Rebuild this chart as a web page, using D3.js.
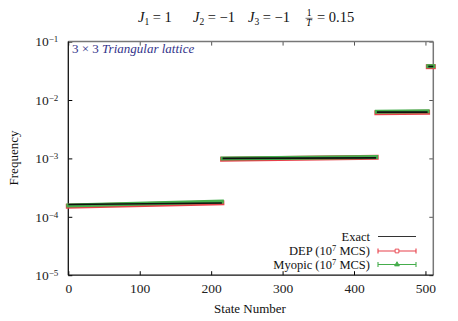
<!DOCTYPE html>
<html>
<head>
<meta charset="utf-8">
<script src="https://cdn.jsdelivr.net/npm/d3@7"></script>
<style>
  body { margin: 0; background: #fff; }
  svg, svg text { font-family: "Liberation Serif", "DejaVu Serif", serif; }
  .pre { white-space: pre; }
</style>
</head>
<body>
<div id="chart"></div>
<script>
// energy groups of the 512 states (first state, last state)
const groupStart = [0, 216, 432, 504];
const groupEnd   = [215, 431, 503, 511];

// frequency read at the first / last state of each group
const exactFirst  = [1.62e-4, 1.00e-3, 6.2e-3, 3.75e-2];
const exactLast   = [1.72e-4, 1.02e-3, 6.2e-3, 3.75e-2];
const depFirst    = [1.52e-4, 0.97e-3, 6.05e-3, 3.72e-2];
const depLast     = [1.74e-4, 1.05e-3, 6.15e-3, 3.72e-2];
const myopicFirst = [1.56e-4, 1.00e-3, 6.3e-3, 3.8e-2];
const myopicLast  = [1.82e-4, 1.06e-3, 6.4e-3, 3.8e-2];

const xTicks = [0, 100, 200, 300, 400, 500];
const yTicks = [1e-5, 1e-4, 1e-3, 1e-2, 1e-1];

// title pieces: [symbol, subscript, value]
const titleParts = [["J", "1", "= 1"], ["J", "2", "= \u22121"], ["J", "3", "= \u22121"]];
const titleTemp = "= 0.15";

const width = 458, height = 321;
const margin = {top: 41.6, right: 24.7, bottom: 45.8, left: 68.3};
const serif = "Liberation Serif, DejaVu Serif, serif";

const svg = d3.select("#chart").append("svg")
    .attr("width", width)
    .attr("height", height);

// scales
const xScale = d3.scaleLinear()
    .domain([0, 511])
    .range([margin.left, width - margin.right]);
const yScale = d3.scaleLog()
    .domain([1e-5, 1e-1])
    .range([height - margin.bottom, margin.top]);

// axes (ticks pointing inward, mirrored like gnuplot)
svg.append("g")
    .attr("transform", "translate(0," + (height - margin.bottom) + ")")
    .call(d3.axisBottom(xScale).tickValues(xTicks).tickSize(-4).tickPadding(8))
    .call(g => g.select(".domain").remove())
    .call(g => g.attr("font-family", serif).attr("font-size", 13.5))
    .selectAll("text")
    .attr("fill", "#222");

svg.append("g")
    .attr("transform", "translate(0," + margin.top + ")")
    .call(d3.axisTop(xScale).tickValues(xTicks).tickSize(-4).tickFormat(""))
    .call(g => g.select(".domain").remove())
    .selectAll("line").attr("stroke", "#555");

const yAxis = svg.append("g")
    .attr("transform", "translate(" + margin.left + ",0)")
    .call(d3.axisLeft(yScale).tickValues(yTicks).tickSize(-4).tickPadding(8))
    .call(g => g.select(".domain").remove())
    .call(g => g.attr("font-family", serif).attr("font-size", 13.5));

yAxis.selectAll("text")
    .attr("fill", "#222")
    .text(null)
    .each(function(d) {
      const t = d3.select(this);
      t.append("tspan").text("10");
      t.append("tspan")
        .attr("dy", "-0.45em")
        .attr("font-size", "9px")
        .text("\u2212" + Math.round(-Math.log10(d)));
    })
    .attr("dx", "-2px");

svg.append("g")
    .attr("transform", "translate(" + (width - margin.right) + ",0)")
    .call(d3.axisRight(yScale).tickValues(yTicks).tickSize(-4).tickFormat(""))
    .call(g => g.select(".domain").remove())
    .selectAll("line").attr("stroke", "#555");

// border: left & bottom black, top & right grey
const x0 = xScale.range()[0], x1 = xScale.range()[1];
const y0 = yScale.range()[0], y1 = yScale.range()[1];
svg.append("line").attr("x1", x0).attr("x2", x1).attr("y1", y1).attr("y2", y1)
    .attr("stroke", "#777").attr("stroke-width", 1.5);
svg.append("line").attr("x1", x1).attr("x2", x1).attr("y1", y1).attr("y2", y0)
    .attr("stroke", "#777").attr("stroke-width", 1.5);
svg.append("line").attr("x1", x0).attr("x2", x1).attr("y1", y0).attr("y2", y0)
    .attr("stroke", "#111").attr("stroke-width", 1.3);
svg.append("line").attr("x1", x0).attr("x2", x0).attr("y1", y1).attr("y2", y0)
    .attr("stroke", "#111").attr("stroke-width", 1.3);

// build group segments
function segments(first, last) {
  return groupStart.map((s, i) => [[s, first[i]], [groupEnd[i], last[i]]]);
}
const line = d3.line().x(d => xScale(d[0])).y(d => yScale(d[1]));

const series = [
  {name: "DEP", first: depFirst, last: depLast, color: "#e8404a", w: 5},
  {name: "Myopic", first: myopicFirst, last: myopicLast, color: "#45ad4c", w: 4},
  {name: "Exact", first: exactFirst, last: exactLast, color: "#111", w: 1.6}
];

series.forEach(s => {
  svg.append("g").selectAll("path")
    .data(segments(s.first, s.last))
    .enter()
    .append("path")
    .attr("d", line)
    .attr("fill", "none")
    .attr("stroke", s.color)
    .attr("stroke-width", s.w)
    .attr("stroke-linecap", s.name === "Exact" ? "butt" : "square");
});

// title
const titleX = [138, 193, 248];
titleParts.forEach((p, i) => {
  const t = svg.append("text")
      .attr("class", "pre")
      .attr("x", titleX[i]).attr("y", 22)
      .attr("font-size", "14.5px")
      .attr("fill", "#111");
  t.append("tspan").attr("font-style", "italic").text(p[0]);
  t.append("tspan").attr("dy", "3").attr("font-size", "9.5px").text(p[1]);
  t.append("tspan").attr("dy", "-3").text(" " + p[2]);
});
const fx = 309;
svg.append("text").attr("x", fx).attr("y", 16).attr("text-anchor", "middle")
    .attr("font-size", "9.5px").text("1");
svg.append("line").attr("x1", fx - 3.5).attr("x2", fx + 3.5).attr("y1", 18.3).attr("y2", 18.3)
    .attr("stroke", "#111").attr("stroke-width", 0.6);
svg.append("text").attr("x", fx).attr("y", 26).attr("text-anchor", "middle")
    .attr("font-size", "9.5px").attr("font-style", "italic").text("T");
svg.append("text").attr("class", "pre").attr("x", 317).attr("y", 22)
    .attr("font-size", "14.5px").attr("fill", "#111").text(titleTemp);

// annotation
const ann = svg.append("text")
    .attr("class", "pre")
    .attr("x", 72).attr("y", 53)
    .attr("font-size", "13px")
    .attr("fill", "#33338a");
ann.append("tspan").text("3 \u00d7 3 ");
ann.append("tspan").attr("font-style", "italic").text("Triangular lattice");

// axis titles
svg.append("text")
    .attr("x", 250).attr("y", 313)
    .attr("text-anchor", "middle")
    .attr("font-size", "13px")
    .attr("fill", "#111")
    .text("State Number");
svg.append("text")
    .attr("transform", "translate(18," + 158 + ") rotate(-90)")
    .attr("text-anchor", "middle")
    .attr("font-size", "13px")
    .attr("fill", "#111")
    .text("Frequency");

// legend
const legend = svg.append("g");
const legRows = [
  {label: "Exact", sup: null, color: "#333", y: 236.5, marker: null},
  {label: "DEP (10", sup: "7", rest: " MCS)", color: "#e8404a", y: 251, marker: "square"},
  {label: "Myopic (10", sup: "7", rest: " MCS)", color: "#45ad4c", y: 264.5, marker: "triangle"}
];
legRows.forEach(r => {
  const t = legend.append("text")
      .attr("class", "pre")
      .attr("x", 370).attr("y", r.y + 4)
      .attr("text-anchor", "end")
      .attr("font-size", "12.5px")
      .attr("fill", "#111");
  t.append("tspan").text(r.label);
  if (r.sup) {
    t.append("tspan").attr("dy", "-4").attr("font-size", "8.5px").text(r.sup);
    t.append("tspan").attr("dy", "4").text(r.rest);
  }
  legend.append("line").attr("x1", 378).attr("x2", 416).attr("y1", r.y).attr("y2", r.y)
      .attr("stroke", r.color).attr("stroke-width", 1.1);
  if (r.marker) {
    [378, 416].forEach(cx => legend.append("line")
        .attr("x1", cx).attr("x2", cx).attr("y1", r.y - 2.5).attr("y2", r.y + 2.5)
        .attr("stroke", r.color).attr("stroke-width", 1.1));
    const sym = d3.symbol()
        .type(r.marker === "square" ? d3.symbolSquare : d3.symbolTriangle)
        .size(r.marker === "square" ? 14 : 10);
    legend.append("path").attr("d", sym)
        .attr("transform", "translate(397," + r.y + ")")
        .attr("fill", r.marker === "square" ? "#fff" : r.color)
        .attr("stroke", r.color).attr("stroke-width", 0.9);
  }
});
</script>
</body>
</html>
